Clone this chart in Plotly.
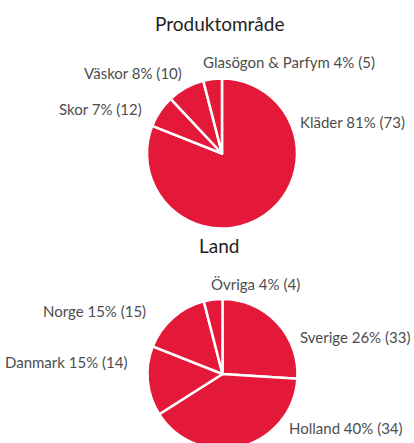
import plotly.graph_objects as go

# ---- data ----
prod_labels = ["Kläder", "Skor", "Väskor", "Glasögon & Parfym"]
prod_pct = [81, 7, 8, 4]
prod_count = [73, 12, 10, 5]

land_labels = ["Sverige", "Holland", "Danmark", "Norge", "Övriga"]
land_pct = [26, 40, 15, 15, 4]
land_count = [33, 34, 14, 15, 4]

titles = ["Produktområde", "Land"]

# ---- layout helpers ----
W, H = 414, 452
RED = "#E4193A"
LABEL_COLOR = "#4d4d4d"
FONT = "Lato"

def px(x):
    return x / W

def py(y):
    return 1 - y / H

fig = go.Figure()

def add_pie(labels, values, cy, r=75, cx=222):
    fig.add_trace(go.Pie(
        labels=labels,
        values=values,
        sort=False,
        direction="clockwise",
        rotation=0,
        textinfo="none",
        hoverinfo="label+percent",
        marker=dict(colors=[RED] * len(labels), line=dict(color="white", width=2.5)),
        domain=dict(x=[px(cx - 190), px(cx + 190)], y=[py(cy + r), py(cy - r)]),
        showlegend=False,
    ))

add_pie(prod_labels, prod_pct, cy=153.5, cx=222)
add_pie(land_labels, land_pct, cy=374, cx=222.5)

# label anchor positions (pixel coords) and anchors
prod_pos = [(298, 122, "left"), (144, 109, "right"), (184, 73, "right"), (201, 62, "left")]
land_pos = [(298, 337, "left"), (287, 428, "left"), (129, 362, "right"), (148, 311, "right"), (209, 284, "left")]

annotations = []
for names, pcts, counts, pos in [(prod_labels, prod_pct, prod_count, prod_pos),
                                  (land_labels, land_pct, land_count, land_pos)]:
    for n, p, c, (x, y, anc) in zip(names, pcts, counts, pos):
        annotations.append(dict(
            text=f"{n} {p}% ({c})", x=px(x), y=py(y), xref="paper", yref="paper",
            xanchor=anc, yanchor="middle", showarrow=False,
            font=dict(family=FONT, size=15, color=LABEL_COLOR),
        ))

for t, y in zip(titles, [24, 245]):
    annotations.append(dict(
        text=t, x=px(219), y=py(y), xref="paper", yref="paper",
        xanchor="center", yanchor="middle", showarrow=False,
        font=dict(family=FONT, size=19, color="#1e1e1e"),
    ))

fig.update_layout(
    width=W, height=H,
    margin=dict(l=0, r=0, t=0, b=0),
    paper_bgcolor="white",
    plot_bgcolor="white",
    annotations=annotations,
)

fig.write_html(
    "out.html",
    config={"displayModeBar": False},
    post_script="document.body.style.margin='0';document.body.style.overflow='hidden';",
)
